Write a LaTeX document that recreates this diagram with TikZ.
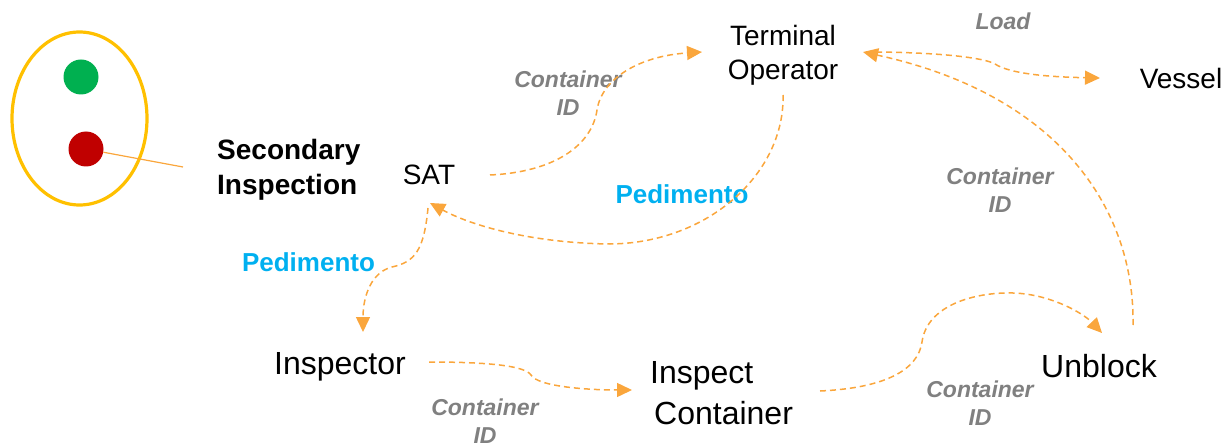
\documentclass[tikz,border=0pt]{standalone}
\usepackage{fontspec}
\setmainfont{Liberation Sans}
\usetikzlibrary{arrows.meta}
\definecolor{flowc}{RGB}{250,166,60}
\definecolor{ringc}{RGB}{255,192,0}
\definecolor{greenc}{RGB}{0,176,80}
\definecolor{redc}{RGB}{192,0,0}
\definecolor{labgray}{RGB}{128,128,128}
\definecolor{pedblue}{RGB}{0,176,240}
\tikzset{
  bigtext/.style={font=\fontsize{32}{41}\selectfont, inner sep=0pt, align=center},
  midtext/.style={font=\fontsize{28}{34}\selectfont, inner sep=0pt, align=center},
  sectext/.style={font=\fontsize{28}{35}\selectfont\bfseries, inner sep=0pt, align=left},
  lab/.style={font=\fontsize{23}{28}\selectfont\bfseries\itshape, text=labgray, inner sep=0pt, align=center},
  ped/.style={font=\fontsize{26}{30}\selectfont\bfseries, text=pedblue, inner sep=0pt},
  flow/.style={draw=flowc, line width=1.5pt, dash pattern=on 6pt off 4pt},
  tip/.style={-{Triangle[length=15pt,width=14pt]}},
  dot/.style={circle, inner sep=0pt, minimum size=35pt}
}
\begin{document}
\begin{tikzpicture}[x=1pt,y=-1pt]
\useasboundingbox (0,0) rectangle (1230,446);
% legend
\draw[ringc, line width=3.2pt] (79.5,118.5) ellipse [x radius=67.5pt, y radius=86.5pt];
\node[dot, fill=greenc] (green) at (81,77) {};
\node[dot, fill=redc] (red) at (86,149) {};
\node[sectext, anchor=west] (sec) at (217,169.5) {Secondary\\Inspection};
\coordinate (secpt) at (183,167);
\draw[flowc, line width=1.2pt] (red) -- (secpt);

% main nodes
\node[midtext] (sat) at (429,175) {SAT};
\node[midtext] (to) at (783,55) {Terminal\\Operator};
\node[midtext] (vessel) at (1181,78) {Vessel};
\node[bigtext] (insp) at (340,367) {Inspector};
\node[bigtext, align=left, anchor=west] (ic) at (650,393) {Inspect\\\hspace*{4pt}Container};
\node[bigtext] (unb) at (1099,366) {Unblock};

% labels
\node[lab] (l1) at (568,93.5) {Container\\ID};
\node[ped] (p1) at (682,194) {Pedimento};
\node[lab] (l2) at (1003,21.5) {Load};
\node[lab] (l3) at (1000,190.5) {Container\\ID};
\node[lab] (l4) at (980,403.5) {Container\\ID};
\node[lab] (l5) at (485,421) {Container\\ID};
\node[ped] (p2) at (308.5,262) {Pedimento};

% connector end points
\coordinate (satR) at (490,175);
\coordinate (toL) at (702,52);
\coordinate (toB) at (783,95);
\coordinate (satB) at (430,203);
\coordinate (satB2) at (428,208);
\coordinate (inspT) at (363,332);
\coordinate (inspR) at (429,362);
\coordinate (icL) at (632,390);
\coordinate (icR) at (820,391);
\coordinate (unbT) at (1102,333);
\coordinate (unbR) at (1133,325);
\coordinate (toR) at (863,52);
\coordinate (toR2) at (866,52);
\coordinate (vesL) at (1100,78);

% connectors
\draw[flow, tip] (satR) .. controls (555,172) and (592,145) .. (597,110)
  .. controls (602,78) and (640,56) .. (toL);
\draw[flow, tip] (toB) .. controls (785,172) and (710,243) .. (610,244)
  .. controls (530,243) and (470,225) .. (satB);
\draw[flow, tip] (satB2) .. controls (424,250) and (415,262) .. (392,267)
  .. controls (372,272) and (363,295) .. (inspT);
\draw[flow, tip] (inspR) .. controls (490,362) and (525,366) .. (531,375)
  .. controls (538,387) and (590,390) .. (icL);
\draw[flow, tip] (icR) .. controls (885,388) and (918,370) .. (922,342)
  .. controls (927,305) and (975,292) .. (1013,293)
  .. controls (1050,294) and (1083,313) .. (unbT);
\draw[flow, tip] (unbR) .. controls (1135,210) and (1060,95) .. (toR);
\draw[flow, tip] (toR2) .. controls (940,52) and (985,58) .. (995,64)
  .. controls (1010,74) and (1050,77) .. (vesL);
\end{tikzpicture}
\end{document}
